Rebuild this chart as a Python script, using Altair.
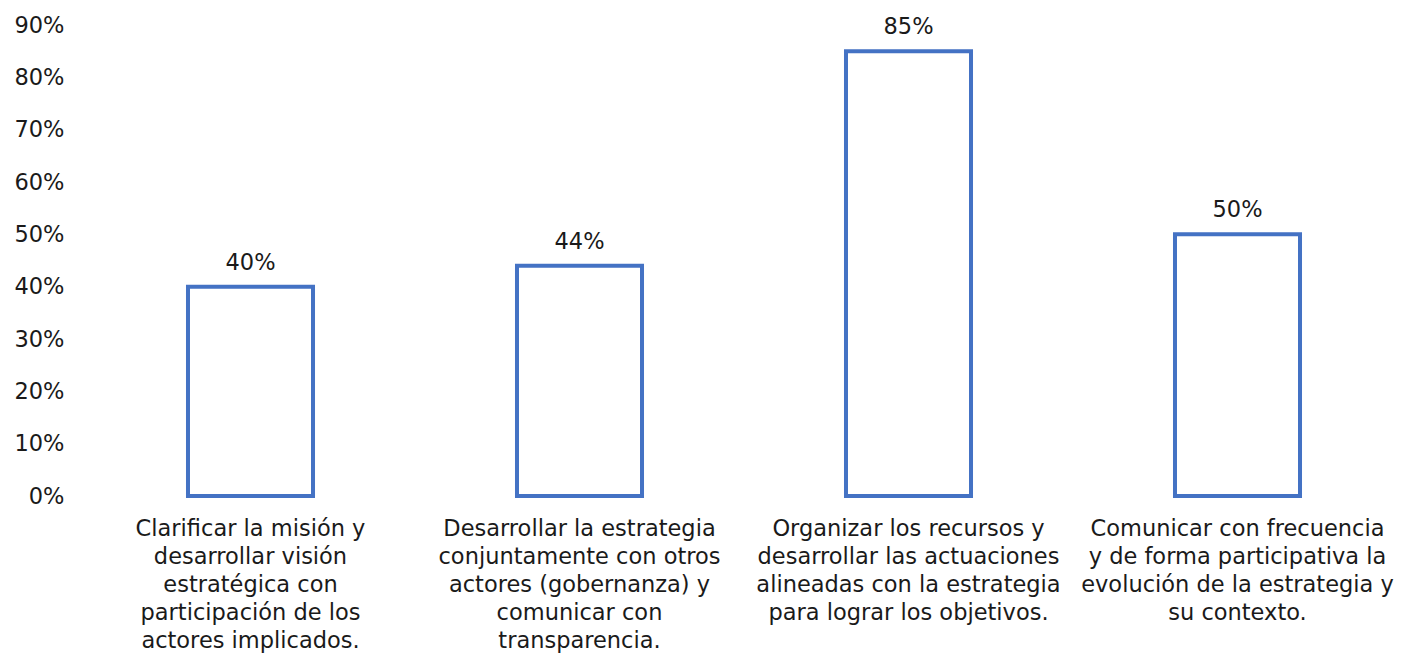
import altair as alt
import pandas as pd

categories = [
    "Clarificar la misión y|desarrollar visión|estratégica con|participación de los|actores implicados.",
    "Desarrollar la estrategia|conjuntamente con otros|actores (gobernanza) y|comunicar con|transparencia.",
    "Organizar los recursos y|desarrollar las actuaciones|alineadas con la estrategia|para lograr los objetivos.",
    "Comunicar con frecuencia|y de forma participativa la|evolución de la estrategia y|su contexto.",
]
values = [0.40, 0.44, 0.85, 0.50]
y_ticks = [0, 0.1, 0.2, 0.3, 0.4, 0.5, 0.6, 0.7, 0.8, 0.9]

df = pd.DataFrame({"cat": categories, "val": values})

FONT = "DejaVu Sans"
BLUE = "#4472C4"
FS = 22.5

x = alt.X(
    "cat:N",
    sort=categories,
    scale=alt.Scale(paddingInner=0.62, paddingOuter=0.31),
    axis=alt.Axis(
        title=None,
        labelAngle=0,
        labelExpr="split(datum.label, '|')",
        labelFontSize=FS,
        labelFont=FONT,
        labelColor="#1a1a1a",
        labelLimit=400,
        labelPadding=21,
        labelLineHeight=28,
        ticks=False,
        domain=False,
        grid=False,
    ),
)
y = alt.Y(
    "val:Q",
    scale=alt.Scale(domain=[0, 0.9], nice=False),
    axis=alt.Axis(
        title=None,
        values=y_ticks,
        format=".0%",
        labelFontSize=FS,
        labelFont=FONT,
        labelColor="#1a1a1a",
        labelPadding=22,
        ticks=False,
        domain=False,
        grid=False,
    ),
)

bars = alt.Chart(df).mark_bar(fill="white", stroke=BLUE, strokeWidth=4).encode(x=x, y=y)
text = alt.Chart(df).mark_text(
    dy=-24, fontSize=FS, font=FONT, color="#1a1a1a", baseline="middle"
).encode(
    x=alt.X("cat:N", sort=categories),
    y=alt.Y("val:Q"),
    text=alt.Text("val:Q", format=".0%"),
)

chart = (
    alt.layer(bars, text)
    .properties(
        width=1316,
        height=471,
        padding={"left": 86, "top": 25, "right": 5, "bottom": 162},
        autosize=alt.AutoSizeParams(type="none"),
        background="white",
    )
    .configure_view(strokeOpacity=0, strokeWidth=0)
    .configure_axis(grid=False)
)

chart.save("out.html", embed_options={"renderer": "svg", "actions": False})
